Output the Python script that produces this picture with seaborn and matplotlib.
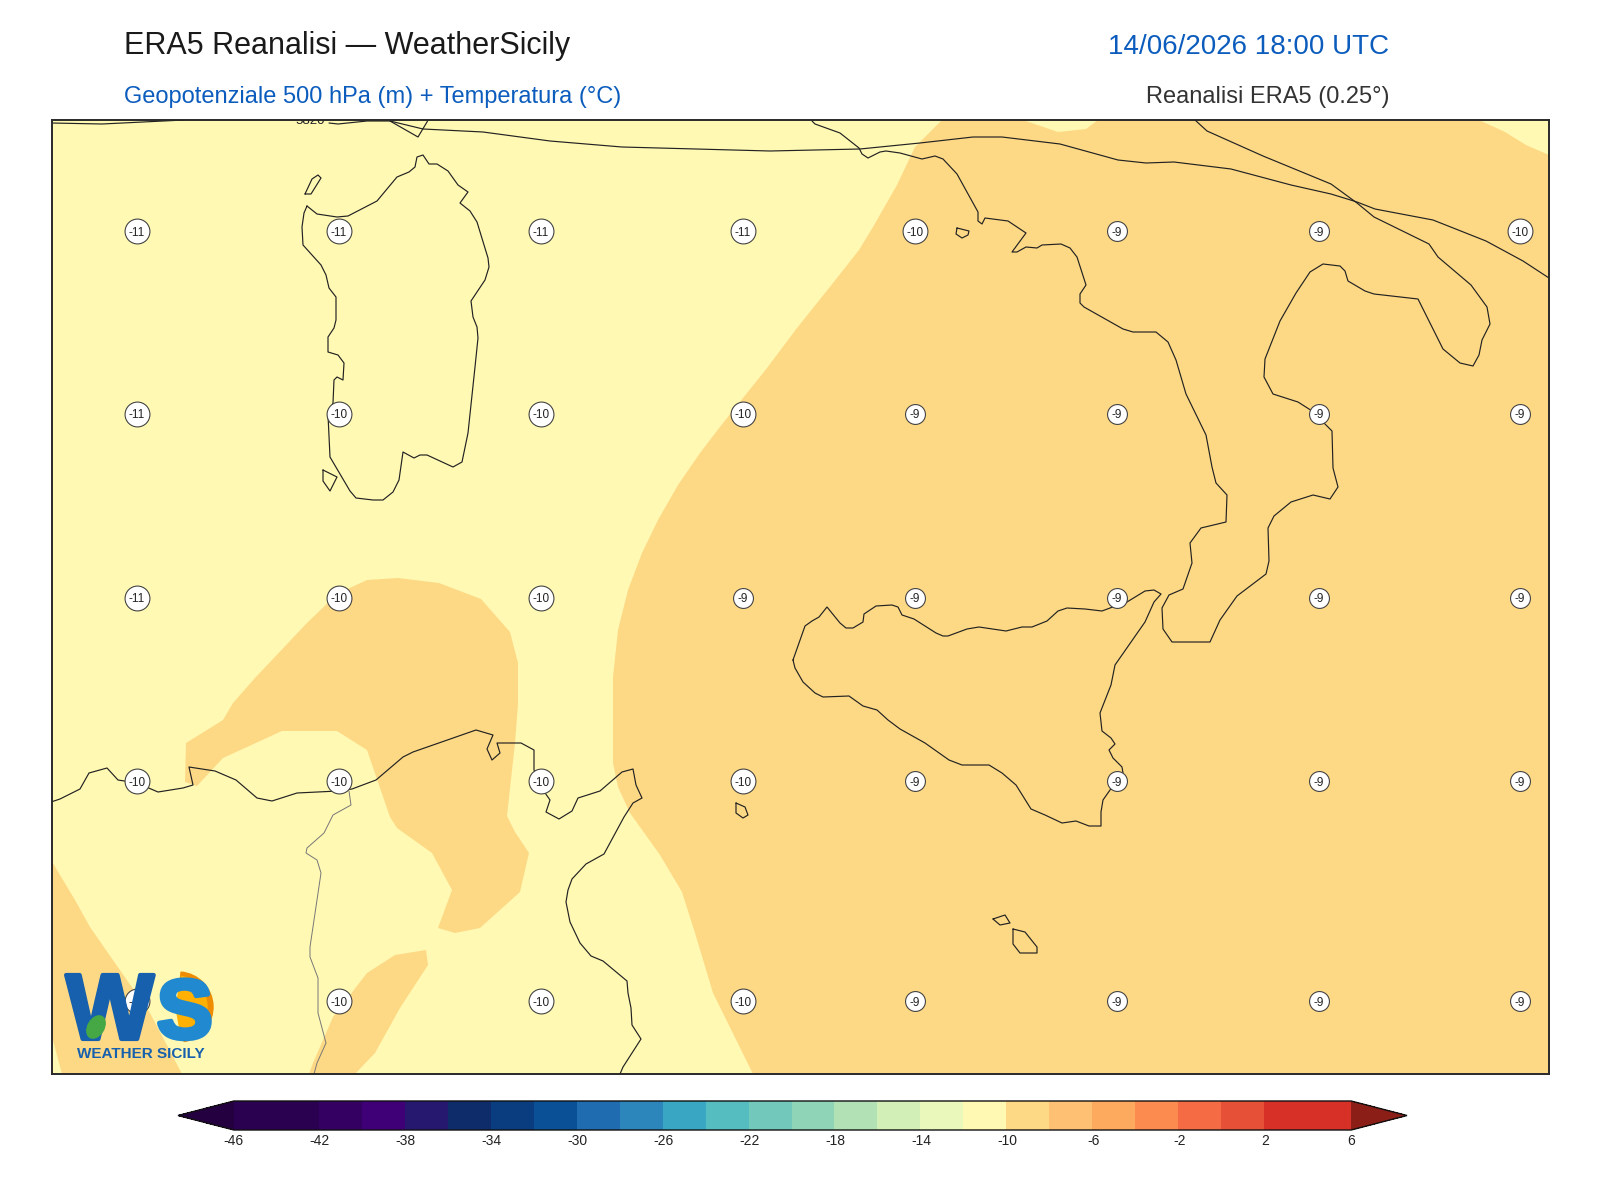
import numpy as np
import pandas as pd
import matplotlib
matplotlib.use("Agg")
import matplotlib.pyplot as plt
import matplotlib.patheffects as pe
import seaborn as sns
from matplotlib.colors import ListedColormap, BoundaryNorm
from matplotlib.cm import ScalarMappable
from matplotlib.patches import Wedge, Ellipse

# temperature colour scale
levels = list(range(-46, 8, 2))
level_colors = ["#2a0050", "#2a0050", "#340062", "#3f0077", "#26186f", "#0f2c6a", "#0a3d80",
                "#0a5096", "#1f6cb0", "#2c86bb", "#39a7c4", "#55bdc0", "#72c8bb", "#90d4b8",
                "#b3e1b6", "#d3efb8", "#ebf8bb", "#fff9b4", "#fed985", "#fec072", "#fdaa5e",
                "#fb8b4e", "#f56c44", "#e65036", "#d73027", "#d73027"]
color_under = "#250040"
color_over = "#8b1f18"
bar_ticks = list(range(-46, 7, 4))

# 850 label grid, map coordinates
grid_x = [137, 339, 541, 743, 915, 1117, 1319, 1520]
grid_y = [231, 414, 598, 781, 1001]
grid_temp = [[-11, -11, -11, -11, -10, -9, -9, -10],
             [-11, -10, -10, -10, -9, -9, -9, -9],
             [-11, -10, -10, -9, -9, -9, -9, -9],
             [-10, -10, -10, -10, -9, -9, -9, -9],
             [-10, -10, -10, -10, -9, -9, -9, -9]]

# -10..-8 band
band_value = -9
band_east = [(942, 120), (915, 147), (897, 185), (873, 227), (859, 250), (833, 283), (797, 328), (767, 368),
             (743, 398), (723, 423), (700, 453), (678, 485), (658, 520), (642, 553), (628, 590), (618, 630),
             (613, 677), (613, 763), (618, 787), (630, 813), (660, 855), (682, 892), (695, 933), (713, 993),
             (753, 1074), (1549, 1074), (1549, 155), (1526, 145), (1505, 132), (1479, 120), (1098, 120),
             (1086, 129), (1058, 132), (1023, 120)]
band_tunis = [(186, 743), (223, 720), (233, 703), (255, 678), (306, 624), (337, 594), (367, 580),
              (398, 578), (439, 583), (481, 599), (510, 632), (518, 663), (518, 704), (515, 743),
              (507, 816), (515, 832), (529, 853), (520, 892), (480, 928), (455, 933), (438, 928),
              (452, 890), (432, 853), (397, 828), (390, 817), (367, 750), (337, 731), (282, 731),
              (223, 758), (197, 786), (185, 782)]
band_corner = [(51, 860), (75, 900), (90, 927), (115, 963), (150, 1013), (182, 1074), (62, 1074), (51, 1033)]
band_south = [(426, 950), (395, 955), (367, 973), (333, 1017), (313, 1063), (309, 1074), (355, 1074),
              (375, 1053), (400, 1008), (428, 965)]
bands = [band_east, band_tunis, band_corner, band_south]

# closed coast outlines
sardinia = [(307, 206), (317, 214), (337, 217), (348, 216), (377, 201), (397, 177), (409, 172), (415, 167),
            (417, 157), (423, 155), (429, 164), (437, 164), (448, 171), (458, 185), (468, 192), (460, 203),
            (470, 211), (477, 222), (488, 258), (489, 267), (485, 280), (471, 301), (473, 317), (477, 327),
            (478, 338), (475, 367), (468, 433), (462, 462), (453, 467), (427, 455), (420, 455), (414, 458),
            (403, 452), (399, 480), (393, 492), (383, 500), (373, 500), (356, 498), (350, 491), (330, 457),
            (328, 415), (333, 403), (334, 380), (337, 377), (343, 380), (344, 363), (338, 355), (328, 352),
            (328, 337), (334, 328), (336, 320), (336, 297), (329, 288), (326, 275), (321, 265), (303, 245),
            (302, 227), (304, 213)]
sicily = [(793, 660), (805, 626), (812, 621), (819, 617), (827, 607), (840, 623), (846, 628), (853, 628),
          (863, 622), (864, 614), (876, 606), (892, 605), (898, 607), (902, 615), (914, 619), (936, 633),
          (943, 636), (948, 636), (967, 629), (979, 627), (1006, 631), (1022, 627), (1032, 627), (1047, 621),
          (1058, 611), (1067, 608), (1085, 609), (1102, 611), (1110, 608), (1127, 602), (1145, 591), (1154, 590),
          (1161, 594), (1154, 602), (1145, 622), (1115, 665), (1111, 685), (1100, 713), (1102, 731), (1111, 738),
          (1115, 744), (1109, 750), (1113, 758), (1122, 767), (1123, 773), (1110, 790), (1103, 800), (1101, 812),
          (1101, 826), (1089, 826), (1076, 821), (1062, 823), (1045, 815), (1031, 809), (1016, 785), (1002, 773),
          (989, 765), (962, 765), (949, 760), (925, 743), (900, 729), (888, 720), (877, 710), (863, 706),
          (849, 696), (823, 697), (815, 693), (803, 682), (795, 668)]
asinara = [(305, 194), (312, 179), (318, 175), (321, 178), (311, 194)]
san_pietro = [(323, 470), (337, 477), (330, 491), (323, 481)]
pantelleria = [(736, 803), (745, 807), (748, 815), (743, 818), (736, 813)]
ustica = [(957, 228), (969, 231), (968, 235), (962, 238), (956, 234)]
gozo = [(993, 919), (1005, 915), (1010, 923), (1000, 925)]
malta = [(1013, 929), (1025, 932), (1037, 947), (1037, 953), (1020, 953), (1013, 944)]
islands = [sardinia, sicily, asinara, san_pietro, pantelleria, ustica, gozo, malta]

# open coast lines
italy = [(812, 121), (815, 124), (840, 133), (859, 148), (862, 154), (868, 158), (880, 152), (886, 151),
         (900, 153), (922, 159), (935, 156), (943, 159), (957, 174), (978, 212), (978, 221), (982, 224),
         (985, 218), (1008, 221), (1026, 233), (1012, 252), (1017, 252), (1026, 247), (1037, 248), (1042, 245),
         (1061, 244), (1070, 248), (1077, 257), (1086, 285), (1080, 294), (1080, 303), (1084, 307), (1123, 329),
         (1133, 332), (1156, 332), (1168, 342), (1176, 360), (1186, 394), (1206, 435), (1212, 467), (1216, 483),
         (1227, 495), (1226, 522), (1201, 528), (1190, 543), (1192, 563), (1183, 589), (1169, 595), (1162, 608),
         (1163, 629), (1172, 642), (1210, 642), (1220, 620), (1237, 596), (1266, 574), (1269, 561), (1268, 528),
         (1274, 516), (1291, 502), (1313, 495), (1330, 499), (1338, 487), (1333, 468), (1332, 431), (1324, 423),
         (1318, 415), (1309, 409), (1298, 402), (1273, 394), (1264, 377), (1265, 359), (1280, 321), (1296, 293),
         (1310, 272), (1323, 264), (1340, 266), (1345, 271), (1348, 281), (1365, 291), (1374, 294), (1418, 299),
         (1443, 349), (1460, 363), (1473, 366), (1479, 355), (1482, 340), (1490, 324), (1487, 307), (1471, 285),
         (1438, 257), (1429, 244), (1374, 217), (1357, 203), (1331, 184), (1263, 156), (1207, 131), (1195, 120)]
north_africa = [(51, 802), (60, 799), (80, 789), (89, 773), (107, 768), (118, 780), (137, 783), (158, 792),
                (183, 788), (193, 785), (189, 767), (215, 771), (236, 780), (257, 798), (272, 801), (297, 793),
                (338, 791), (352, 789), (376, 780), (403, 757), (413, 752), (476, 730), (493, 735), (487, 749),
                (492, 760), (500, 753), (497, 743), (521, 743), (534, 750), (534, 770), (543, 790), (550, 800),
                (546, 812), (559, 819), (572, 811), (578, 798), (600, 791), (622, 772), (633, 769), (636, 785),
                (642, 798), (633, 803), (624, 817), (604, 854), (586, 864), (572, 879), (568, 890), (566, 902),
                (570, 922), (580, 943), (591, 956), (603, 961), (627, 981), (628, 993), (631, 1008), (632, 1025),
                (641, 1039), (623, 1067), (620, 1074)]
corsica = [(390, 121), (418, 137), (427, 122), (428, 120)]
top_line_west = [(51, 123), (102, 124), (184, 120)]
top_line = [(329, 123), (338, 124), (367, 121), (390, 121), (423, 129), (483, 132), (550, 141), (622, 147),
            (770, 151), (860, 149), (920, 143), (973, 137), (1002, 137), (1060, 144), (1118, 160), (1146, 163),
            (1174, 162), (1231, 169), (1291, 185), (1331, 194), (1357, 202), (1375, 209), (1433, 220),
            (1486, 241), (1523, 261), (1549, 278)]
coast_lines = [italy, north_africa, corsica, top_line_west, top_line]
tunisia_border = [(349, 791), (351, 805), (333, 815), (324, 833), (307, 848), (306, 853), (317, 860), (321, 873),
                  (310, 947), (310, 957), (318, 978), (318, 1013), (326, 1043), (317, 1063), (314, 1074)]

TITLE_BLUE = "#0b5cbd"
W, H = 1600, 1200


def draw_line(ax, points, color="#222222", lw=0.85):
    df = pd.DataFrame(points, columns=["x", "y"])
    sns.lineplot(data=df, x="x", y="y", ax=ax, sort=False, estimator=None,
                 color=color, linewidth=lw, legend=False, zorder=3)


def draw_grid_labels(ax):
    xx, yy = np.meshgrid(grid_x, grid_y)
    df = pd.DataFrame({"x": xx.ravel(), "y": yy.ravel(), "t": np.array(grid_temp).ravel()})
    df["two"] = df["t"] <= -10
    for two, sub in df.groupby("two"):
        sns.scatterplot(data=sub, x="x", y="y", ax=ax, s=320 if two else 205, color="white",
                        edgecolor="#444444", linewidth=0.8, legend=False, zorder=5)
    for _, r in df.iterrows():
        ax.text(r["x"], r["y"], str(int(r["t"])), ha="center", va="center_baseline",
                fontsize=8.5, color="#222222", zorder=6)


def draw_logo(ax):
    ax.add_patch(Wedge((178, 1007), 35, -85, 80, color="#f08c00", zorder=7))
    ax.add_patch(Wedge((176, 1007), 31, -80, 80, color="#ffb000", zorder=7))
    fat = [pe.withStroke(linewidth=3, foreground="#1660ad")]
    ax.text(66, 1039, "W", fontsize=67, fontweight="bold", color="#1660ad", ha="left",
            va="baseline", zorder=8, path_effects=fat)
    fat_s = [pe.withStroke(linewidth=3.5, foreground="#2189d0")]
    ax.text(157, 1038, "S", fontsize=60, fontweight="bold", color="#2189d0", ha="left",
            va="baseline", zorder=8, path_effects=fat_s)
    ax.add_patch(Ellipse((96, 1027), 16, 24, angle=30, color="#45a845", zorder=9))
    ax.text(141, 1058, "WEATHER SICILY", fontsize=11, fontweight="bold", color="#1660ad",
            ha="center", va="baseline", zorder=8)


def draw_colorbar(fig):
    cmap = ListedColormap(level_colors).with_extremes(under=color_under, over=color_over)
    norm = BoundaryNorm(levels, cmap.N)
    cax = fig.add_axes([178 / W, 1 - 1130 / H, (1407 - 178) / W, 29 / H])
    cbar = fig.colorbar(ScalarMappable(norm=norm, cmap=cmap), cax=cax, orientation="horizontal",
                        extend="both", extendfrac=0.05, ticks=bar_ticks, spacing="uniform")
    cbar.solids.set_edgecolor("face")
    cbar.outline.set_edgecolor("#111111")
    cbar.outline.set_linewidth(1.0)
    cbar.ax.minorticks_off()
    cbar.ax.tick_params(length=0, pad=3.2, labelsize=10, colors="#222222")
    cbar.ax.set_xticklabels([str(t) for t in bar_ticks])
    return cmap, norm


def main():
    sns.set_style("white")
    plt.rcParams["font.family"] = ["Liberation Sans", "DejaVu Sans"]

    fig = plt.figure(figsize=(W / 100, H / 100), dpi=100)
    ax = fig.add_axes([51.5 / W, 1 - 1073.5 / H, (1548.5 - 51.5) / W, (1073.5 - 120) / H])
    cmap, norm = draw_colorbar(fig)

    ax.set_facecolor(cmap(norm(-11)))
    for band in bands:
        bx, by = zip(*band)
        ax.fill(bx, by, color=cmap(norm(band_value)), lw=0, zorder=1)

    for shape in islands:
        draw_line(ax, shape + shape[:1])
    for line in coast_lines:
        draw_line(ax, line)
    draw_line(ax, tunisia_border, color="#777777", lw=0.7)

    ax.text(310, 121, "5820", fontsize=9.5, ha="center", va="center", color="#222222", zorder=4,
            clip_on=True, bbox=dict(fc=cmap(norm(-11)), ec="none", pad=1))

    draw_grid_labels(ax)
    draw_logo(ax)

    ax.set_xlim(51.5, 1548.5)
    ax.set_ylim(1073.5, 120)
    ax.set(xlabel=None, ylabel=None, xticks=[], yticks=[])
    for s in ax.spines.values():
        s.set_visible(True)
        s.set_color("#2a2a2a")
        s.set_linewidth(1.4)
        s.set_zorder(10)

    fig.text(124 / W, 1 - 54 / H, "ERA5 Reanalisi \u2014 WeatherSicily", fontsize=22, color="#1a1a1a")
    fig.text(1389 / W, 1 - 54 / H, "14/06/2026 18:00 UTC", fontsize=20, color=TITLE_BLUE, ha="right")
    fig.text(124 / W, 1 - 103 / H, "Geopotenziale 500 hPa (m) + Temperatura (\u00b0C)", fontsize=17, color=TITLE_BLUE)
    fig.text(1389 / W, 1 - 103 / H, "Reanalisi ERA5 (0.25\u00b0)", fontsize=17, color="#333333", ha="right")

    fig.savefig("out.png", dpi=100, facecolor="white")
    plt.close(fig)


if __name__ == "__main__":
    main()
